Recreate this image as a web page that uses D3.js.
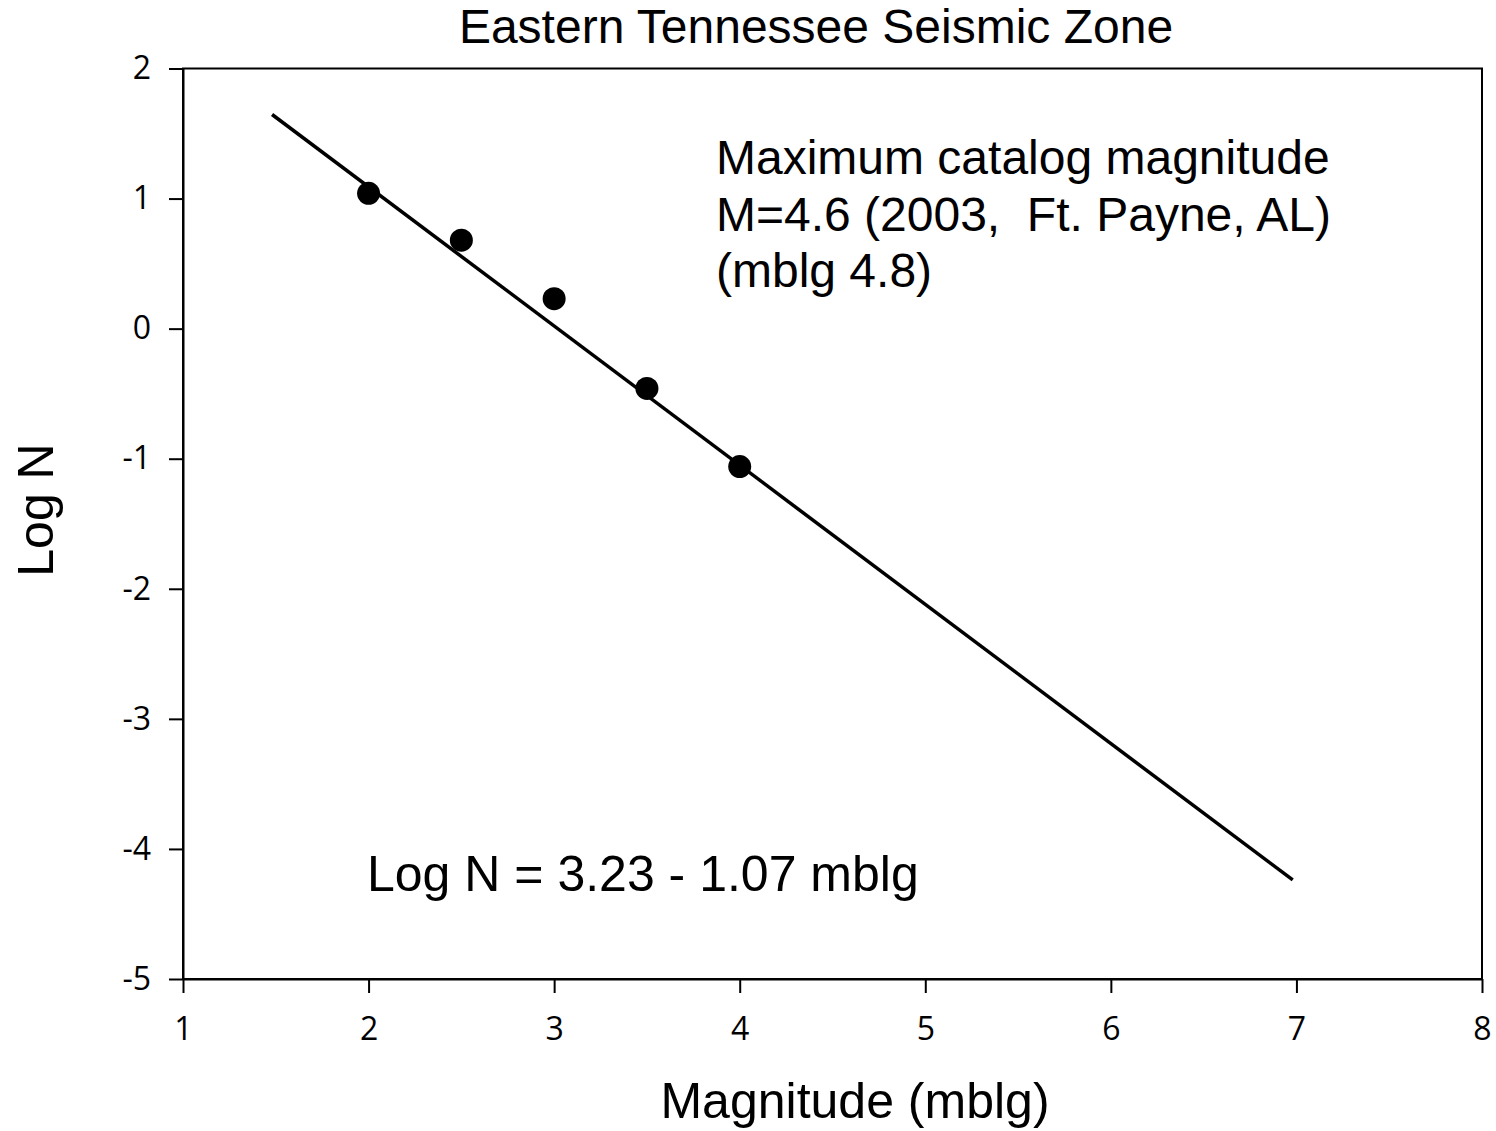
<!DOCTYPE html>
<html>
<head>
<meta charset="utf-8">
<script src="https://cdn.jsdelivr.net/npm/d3@7"></script>
<style>
  html, body { margin: 0; padding: 0; background: #fff; }
  svg { display: block; }
  .tick text { font-family: "Open Sans", "Noto Sans", sans-serif; font-size: 32px; fill: #000; }
  .lbl { font-family: "Liberation Sans", Arial, sans-serif; fill: #000; white-space: pre; }
</style>
</head>
<body>
<svg id="chart" width="1496" height="1131"></svg>
<script>
// Observed cumulative rates: magnitude (mblg) vs log N
const magnitudes = [2.0, 2.5, 3.0, 3.5, 4.0];
const logN = [1.04, 0.68, 0.23, -0.46, -1.06];

// Gutenberg-Richter fit: Log N = 3.23 - 1.07 mblg
const fitIntercept = 3.23;
const fitSlope = -1.07;
const fitRange = [1.48, 6.98];

const xTicks = [1, 2, 3, 4, 5, 6, 7, 8];
const yTicks = [-5, -4, -3, -2, -1, 0, 1, 2];

const titleText = "Eastern Tennessee Seismic Zone";
const xLabel = "Magnitude (mblg)";
const yLabel = "Log N";
const noteLines = ["Maximum catalog magnitude", "M=4.6 (2003,  Ft. Payne, AL)", "(mblg 4.8)"];
const equationText = "Log N = 3.23 - 1.07 mblg";

const svg = d3.select("#chart");
const plotLeft = 183, plotRight = 1482, plotTop = 68.5, plotBottom = 979;

const x = d3.scaleLinear().domain([1, 8]).range([plotLeft, plotRight]);
const y = d3.scaleLinear().domain([-5, 2]).range([plotBottom, plotTop]);

// frame
svg.append("rect")
  .attr("x", plotLeft).attr("y", plotTop)
  .attr("width", plotRight - plotLeft).attr("height", plotBottom - plotTop)
  .attr("fill", "none").attr("stroke", "#000").attr("stroke-width", 2);

const yAxis = svg.append("g")
  .attr("transform", `translate(${plotLeft},0)`)
  .call(d3.axisLeft(y).tickValues(yTicks).tickFormat(d => String(d))
    .tickSize(14).tickSizeOuter(0).tickPadding(18));
const xAxis = svg.append("g")
  .attr("transform", `translate(0,${plotBottom})`)
  .call(d3.axisBottom(x).tickValues(xTicks).tickFormat(d => String(d))
    .tickSize(14).tickSizeOuter(0).tickPadding(24));
[yAxis, xAxis].forEach(g => {
  g.select(".domain").attr("stroke", "#000").attr("stroke-width", 2);
  g.selectAll(".tick line").attr("stroke", "#000").attr("stroke-width", 2);
});

// fitted line
const fitLine = d3.line().x(d => x(d)).y(d => y(fitIntercept + fitSlope * d));
svg.append("path")
  .datum(fitRange)
  .attr("d", fitLine)
  .attr("fill", "none").attr("stroke", "#000").attr("stroke-width", 3.5);

// data points
svg.append("g").selectAll("circle")
  .data(magnitudes.map((m, i) => [m, logN[i]]))
  .join("circle")
  .attr("cx", d => x(d[0])).attr("cy", d => y(d[1]))
  .attr("r", 11.5).attr("fill", "#000");

// title
svg.append("text").attr("class", "lbl")
  .attr("x", 816).attr("y", 43)
  .attr("text-anchor", "middle").attr("font-size", 48)
  .text(titleText);

// axis titles
svg.append("text").attr("class", "lbl")
  .attr("x", 855).attr("y", 1118)
  .attr("text-anchor", "middle").attr("font-size", 50)
  .text(xLabel);
svg.append("text").attr("class", "lbl")
  .attr("transform", "translate(53,510) rotate(-90)")
  .attr("text-anchor", "middle").attr("font-size", 50)
  .text(yLabel);

// annotation
svg.append("g").selectAll("text")
  .data(noteLines)
  .join("text").attr("class", "lbl")
  .attr("x", 716).attr("y", (d, i) => 174 + i * 56.5)
  .attr("font-size", 48)
  .text(d => d);

svg.append("text").attr("class", "lbl")
  .attr("x", 367).attr("y", 891)
  .attr("font-size", 50)
  .text(equationText);
</script>
</body>
</html>
